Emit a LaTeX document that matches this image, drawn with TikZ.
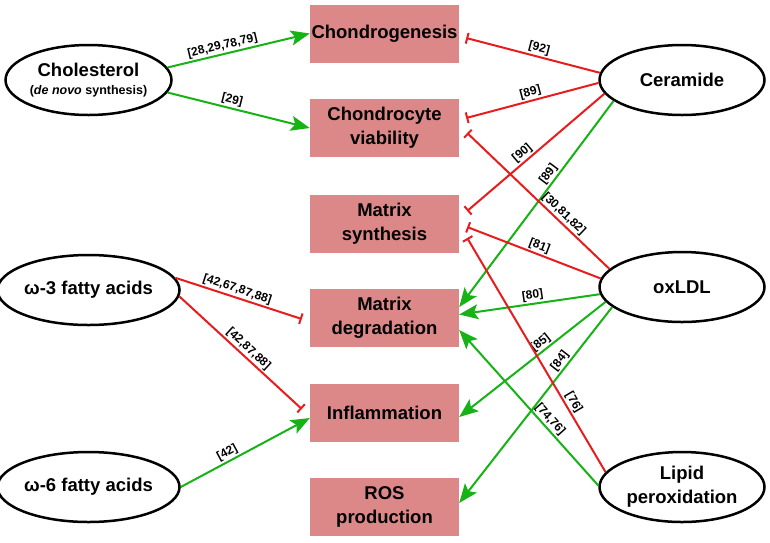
\documentclass[tikz,border=0pt]{standalone}
\usepackage{fontspec}
\setmainfont{Liberation Sans}
\usetikzlibrary{shapes}
\usetikzlibrary{arrows.meta}
\definecolor{boxred}{RGB}{221,136,136}
\definecolor{actgreen}{RGB}{22,178,22}
\definecolor{inhred}{RGB}{232,28,28}
\begin{document}
\begin{tikzpicture}[x=1pt,y=-1pt]
	\tikzstyle{effect}=[rectangle,fill=boxred,minimum width=149pt,minimum height=58pt,inner sep=0pt,align=center,font=\fontsize{18.5}{24}\selectfont\bfseries]
	\tikzstyle{factor}=[ellipse,draw,line width=2.5pt,fill=white,minimum width=165pt,minimum height=70pt,inner sep=0pt,align=center,font=\fontsize{18.5}{24}\selectfont\bfseries]
	\tikzstyle{act}=[draw=actgreen,line width=2pt,-{Stealth[length=19pt,width=15pt,inset=4pt]}]
	\tikzstyle{inh}=[draw=inhred,line width=2pt,-{Bar[width=11pt]}]
	\tikzstyle{ref}=[font=\fontsize{12}{12}\selectfont\bfseries,sloped,above,inner sep=1.5pt]
	\useasboundingbox (0,0) rectangle (770,542);

	% outcomes
	\node[effect] (chgen) at (384.5,33.5) {Chondrogenesis};
	\node[effect] (chviab) at (384.5,128) {Chondrocyte\\viability};
	\node[effect] (msyn) at (384.5,223.5) {Matrix\\synthesis};
	\node[effect] (mdeg) at (384.5,317.5) {Matrix\\degradation};
	\node[effect] (infl) at (384.5,413) {Inflammation};
	\node[effect] (ros) at (384.5,507) {ROS\\production};

	% lipid factors
	\node[factor] (chol) at (88.5,80) {Cholesterol\\[-6pt]{\fontsize{12.5}{15}\selectfont(\textit{de novo} synthesis)}};
	\node[factor] (omega3) at (88.5,290) {ω-3 fatty acids};
	\node[factor] (omega6) at (88.5,487) {ω-6 fatty acids};
	\node[factor] (cer) at (682,80) {Ceramide};
	\node[factor] (oxldl) at (682,287) {oxLDL};
	\node[factor] (lpo) at (682,487) {Lipid\\peroxidation};

	\draw[act] (chol.9) -- (chgen.west) node[ref,pos=0.4] {[28,29,78,79]};
	\draw[act] (chol.-9) -- (chviab.west) node[ref,pos=0.44] {[29]};
	\draw[inh] (cer.175) -- ([shift={(7,4.5)}]chgen.east) node[ref,pos=0.47] {[92]};
	\draw[inh] (cer.182) -- ([shift={(7,-10)}]chviab.east) node[ref,pos=0.5] {[89]};
	\draw[inh] (cer.190) -- ([shift={(8,-12.5)}]msyn.east) node[ref,pos=0.56] {[90]};
	\draw[act] (cer.197) -- ([shift={(0,-10.5)}]mdeg.east) node[ref,pos=0.38] {[89]};
	\draw[inh] (oxldl.166) -- ([shift={(8,5)}]chviab.east) node[ref,pos=0.36] {[30,81,82]};
	\draw[inh] (oxldl.174) -- ([shift={(8,3.5)}]msyn.east) node[ref,pos=0.48] {[81]};
	\draw[act] (oxldl.185) -- ([shift={(0,-3)}]mdeg.east) node[ref,pos=0.47] {[80]};
	\draw[act] (oxldl.191) -- ([shift={(0,4)}]infl.east) node[ref,pos=0.41] {[85]};
	\draw[act] (oxldl.196) -- ([shift={(0,-4)}]ros.east) node[ref,pos=0.3] {[84]};
	\draw[inh] (lpo.169) -- ([shift={(8,14.5)}]msyn.east) node[ref,pos=0.28] {[76]};
	\draw[act] (lpo.179) -- ([shift={(0,12.5)}]mdeg.east) node[ref,pos=0.39] {[74,76]};
	\draw[inh] (omega3.8) -- ([shift={(-8,1.5)}]mdeg.west) node[ref,pos=0.47] {[42,67,87,88]};
	\draw[inh] (omega3.-4) -- ([shift={(-8,-4)}]infl.west) node[ref,pos=0.52] {[42,87,88]};
	\draw[act] (omega6.0) -- ([shift={(0,5)}]infl.west) node[ref,pos=0.39] {[42]};
\end{tikzpicture}
\end{document}
